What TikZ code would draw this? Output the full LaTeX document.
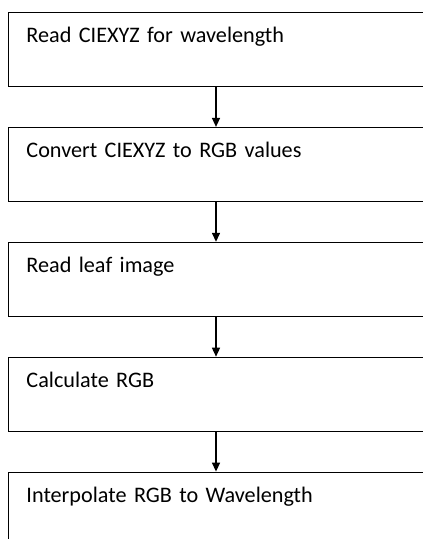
\documentclass[tikz,border=0pt]{standalone}
\usepackage{fontspec}
\setmainfont{Carlito}
\usepackage{tikz}
\usetikzlibrary{arrows.meta,positioning}

\begin{document}
\begin{tikzpicture}[
  x=1pt, y=1pt,
  stepbox/.style={draw, line width=0.9pt, rectangle, anchor=north west, inner xsep=18pt, inner ysep=0pt,
    text width=420pt, align=left, text height=30.5pt, text depth=43.5pt,
    font=\fontsize{22.2}{27}\selectfont},
  arrow/.style={-{Triangle[length=9pt, width=8pt]}, line width=1.4pt}
]
  \useasboundingbox (0,0) rectangle (423,-539);
  \clip (0,0) rectangle (423,-539);
  \coordinate (axis) at (216,0);

  % Read
  \node[stepbox] (xyz) at (8,-12) {Read CIEXYZ for wavelength};

  % Convert
  \node[stepbox, below=40pt of xyz] (conv) {Convert CIEXYZ to RGB values};

  % Leaf
  \node[stepbox, below=40pt of conv] (leaf) {Read leaf image};

  % Calculate
  \node[stepbox, below=40pt of leaf] (calc) {Calculate RGB};

  % Interpolate
  \node[stepbox, below=40pt of calc] (interp) {Interpolate RGB to Wavelength};

  % Arrows
  \draw[arrow] (xyz.south -| axis) -- (conv.north -| axis);
  \draw[arrow] (conv.south -| axis) -- (leaf.north -| axis);
  \draw[arrow] (leaf.south -| axis) -- (calc.north -| axis);
  \draw[arrow] (calc.south -| axis) -- (interp.north -| axis);
\end{tikzpicture}
\end{document}
